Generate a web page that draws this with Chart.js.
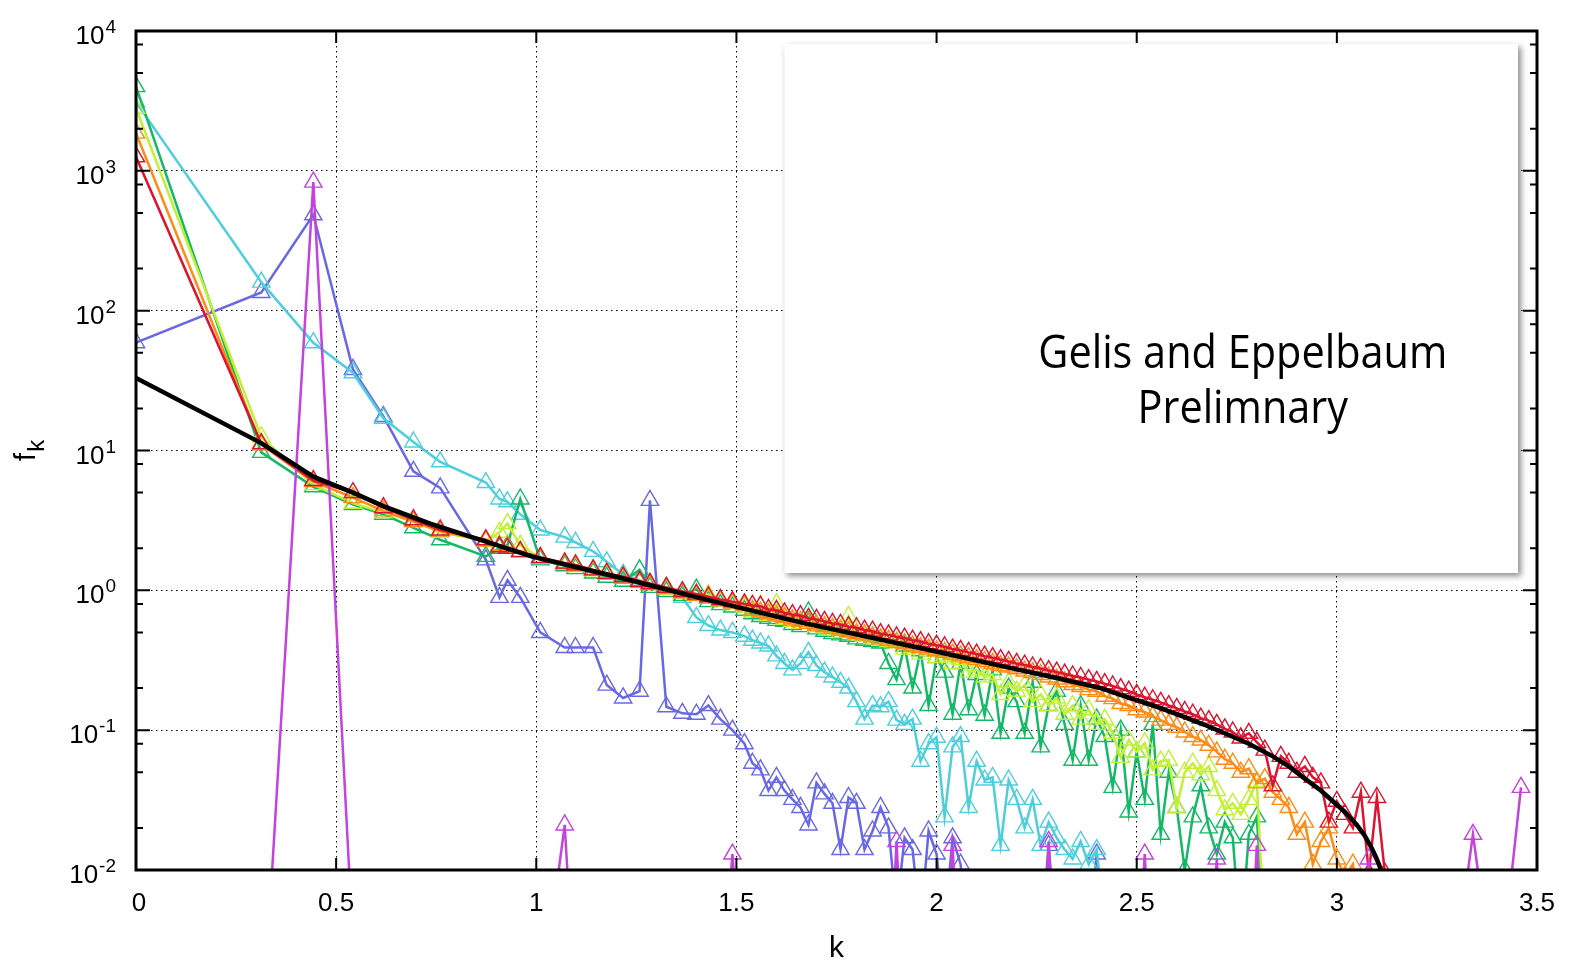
<!DOCTYPE html>
<html>
<head>
<meta charset="utf-8">
<script src="https://cdn.jsdelivr.net/npm/chart.js@4.4.0/dist/chart.umd.min.js"></script>
<style>
  html, body { margin: 0; padding: 0; background: #fff; }
  #wrap { width: 1569px; height: 961px; position: relative; }
</style>
</head>
<body>
<div id="wrap"><canvas id="fkChart"></canvas></div>
<script>
// lattice momenta k, shared by the simulated curves
const K = [0, 0.313, 0.443, 0.542, 0.618, 0.693, 0.760, 0.874, 0.908, 0.928, 0.960, 1.010, 1.071, 1.098, 1.142, 1.176, 1.217, 1.258, 1.284, 1.325, 1.365, 1.40, 1.43, 1.46, 1.49, 1.52,
  1.54, 1.56, 1.58, 1.60, 1.62, 1.64, 1.66, 1.68, 1.70, 1.72,
  1.74, 1.76, 1.78, 1.80, 1.82, 1.84, 1.86, 1.88, 1.90, 1.92,
  1.94, 1.96, 1.98, 2.00, 2.02, 2.04, 2.06, 2.08, 2.10, 2.12,
  2.14, 2.16, 2.18, 2.20, 2.22, 2.24, 2.26, 2.28, 2.30, 2.32,
  2.34, 2.36, 2.38, 2.40, 2.42, 2.44, 2.46, 2.48, 2.50, 2.52,
  2.54, 2.56, 2.58, 2.60, 2.62, 2.64, 2.66, 2.68, 2.70, 2.72,
  2.74, 2.76, 2.78, 2.80, 2.82, 2.84, 2.86, 2.88, 2.90, 2.92,
  2.94, 2.96, 2.98, 3.00, 3.02, 3.04, 3.06, 3.08, 3.10, 3.12,
  3.16, 3.22, 3.28, 3.34, 3.40, 3.46];

// f_k per run (values below 1e-2 sit under the axis)
const fRed = [1260, 11.2, 6.1, 5.0, 3.9, 3.2, 2.7, 2.3, 2.05, 2.0, 1.9, 1.72, 1.57, 1.52, 1.40, 1.32, 1.25, 1.16, 1.12, 1.05, 0.98, 0.94, 0.90, 0.86, 0.83, 0.80,
  0.78, 0.77, 0.73, 0.72, 0.69, 0.67, 0.66, 0.63, 0.62, 0.60,
  0.58, 0.57, 0.55, 0.54, 0.52, 0.51, 0.49, 0.48, 0.465, 0.455,
  0.44, 0.43, 0.415, 0.405, 0.395, 0.38, 0.372, 0.36, 0.35, 0.338,
  0.33, 0.32, 0.31, 0.30, 0.292, 0.283, 0.276, 0.267, 0.26, 0.252,
  0.244, 0.238, 0.23, 0.223, 0.215, 0.207, 0.198, 0.19, 0.18, 0.172,
  0.165, 0.158, 0.15, 0.143, 0.136, 0.13, 0.122, 0.117, 0.11, 0.102,
  0.097, 0.088, 0.095, 0.082, 0.072, 0.04, 0.065, 0.058, 0.05, 0.055,
  0.046, 0.042, 0.022, 0.031, 0.025, 0.02, 0.036, 0.0095, 0.033, 0.0095,
  null, null, null, null, null, null];
const fOrange = [1860, 11.0, 6.0, 4.6, 3.7, 3.1, 2.65, 2.25, 2.1, 2.05, 1.88, 1.7, 1.55, 1.5, 1.4, 1.33, 1.22, 1.14, 1.10, 1.03, 0.96, 0.92, 0.88, 0.84, 0.81, 0.78,
  0.72, 0.70, 0.68, 0.655, 0.64, 0.615, 0.60, 0.58, 0.565, 0.55,
  0.535, 0.52, 0.505, 0.49, 0.48, 0.465, 0.45, 0.44, 0.425, 0.415,
  0.40, 0.39, 0.38, 0.37, 0.36, 0.35, 0.34, 0.33, 0.32, 0.31,
  0.30, 0.29, 0.283, 0.275, 0.265, 0.258, 0.25, 0.24, 0.232, 0.222,
  0.212, 0.205, 0.195, 0.19, 0.175, 0.168, 0.155, 0.15, 0.14, 0.135,
  0.125, 0.118, 0.11, 0.105, 0.097, 0.09, 0.085, 0.078, 0.07, 0.062,
  0.058, 0.05, 0.053, 0.042, 0.045, 0.036, 0.032, 0.028, 0.018, 0.022,
  0.011, 0.016, 0.02, 0.012, 0.009, 0.011, 0.004, null, null, null,
  null, null, null, null, null, null];
const fYellow = [2800, 12.5, 5.7, 4.2, 3.6, 3.1, 2.6, 2.25, 2.6, 3.0, 2.1, 1.7, 1.55, 1.48, 1.38, 1.3, 1.22, 1.14, 1.1, 1.02, 0.96, 0.92, 0.93, 0.84, 0.80, 0.76,
  0.70, 0.78, 0.66, 0.80, 0.62, 0.60, 0.58, 0.62, 0.55, 0.54,
  0.52, 0.50, 0.65, 0.48, 0.47, 0.45, 0.44, 0.43, 0.42, 0.38,
  0.39, 0.35, 0.37, 0.33, 0.34, 0.30, 0.32, 0.26, 0.27, 0.24,
  0.25, 0.18, 0.22, 0.19, 0.21, 0.16, 0.18, 0.15, 0.17, 0.13,
  0.15, 0.12, 0.14, 0.11, 0.12, 0.095, 0.064, 0.085, 0.07, 0.081,
  0.052, 0.06, 0.061, 0.028, 0.05, 0.058, 0.048, 0.055, 0.037, 0.027,
  0.03, 0.025, 0.032, 0.043, 0.003, null, null, null, null, null,
  null, null, null, null, null, null, null, null, null, null,
  null, null, null, null, null, null];
const fGreen = [4000, 9.7, 5.5, 4.1, 3.5, 2.8, 2.3, 1.75, 2.0, 2.1, 4.5, 1.65, 1.5, 1.43, 1.33, 1.24, 1.16, 1.4, 1.05, 0.98, 0.92, 1.02, 0.83, 0.79, 0.76, 0.72,
  0.68, 0.65, 0.63, 0.61, 0.60, 0.57, 0.55, 0.70, 0.53, 0.51,
  0.49, 0.48, 0.47, 0.45, 0.44, 0.43, 0.42, 0.30, 0.23, 0.40,
  0.20, 0.37, 0.15, 0.33, 0.26, 0.13, 0.30, 0.14, 0.25, 0.128,
  0.27, 0.095, 0.20, 0.16, 0.095, 0.22, 0.076, 0.15, 0.19, 0.11,
  0.061, 0.15, 0.061, 0.12, 0.09, 0.039, 0.10, 0.026, 0.07, 0.032,
  0.11, 0.018, 0.05, 0.028, 0.01, 0.024, 0.04, 0.02, 0.013, 0.022,
  0.017, 0.003, 0.018, 0.024, 0.003, null, null, null, null, null,
  null, null, null, null, null, null, null, null, null, null,
  null, null, null, null, null, null];
const fCyan = [3100, 160, 59, 36, 17, 11.5, 8.3, 5.9, 4.5, 4.3, 3.5, 2.7, 2.4, 2.2, 1.9, 1.6, 1.3, 1.18, 1.12, 1.05, 0.89, 0.64, 0.56, 0.52, 0.5, 0.47,
  0.44, 0.42, 0.40, 0.34, 0.30, 0.27, 0.30, 0.36, 0.29, 0.26,
  0.24, 0.22, 0.20, 0.16, 0.12, 0.15, 0.147, 0.16, 0.118, 0.11,
  0.12, 0.06, 0.08, 0.089, 0.024, 0.076, 0.09, 0.028, 0.06, 0.044,
  0.046, 0.015, 0.044, 0.032, 0.02, 0.032, 0.015, 0.022, 0.017, 0.014,
  0.012, 0.016, 0.011, 0.014, 0.004, null, null, null, null, null,
  null, null, null, null, null, null, null, null, null, null,
  null, null, null, null, null, null, null, null, null, null,
  null, null, null, null, null, null, null, null, null, null,
  null, null, null, null, null, null];
const fBlue = [59, 135, 485, 38, 17.5, 7.1, 5.4, 1.65, 0.89, 1.18, 0.89, 0.50, 0.39, 0.39, 0.39, 0.21, 0.17, 0.19, 4.4, 0.147, 0.132, 0.13, 0.15, 0.12, 0.10, 0.08,
  0.058, 0.052, 0.037, 0.046, 0.037, 0.032, 0.028, 0.021, 0.042, 0.035,
  0.030, 0.014, 0.033, 0.03, 0.014, 0.019, 0.028, 0.02, 0.005, 0.017,
  0.014, 0.004, 0.019, 0.013, 0.004, 0.017, 0.011, 0.003, 0.003, 0.003,
  0.003, 0.003, 0.003, 0.003, 0.003, 0.003, 0.003, 0.015, 0.003, 0.003,
  0.003, 0.003, 0.003, 0.013, 0.003, null, null, null, null, null,
  null, null, null, null, null, null, null, null, null, null,
  null, null, null, null, null, null, null, null, null, null,
  null, null, null, null, null, null, null, null, null, null,
  null, null, null, null, null, null];
const fMagenta = [null, 0.0005, 830, 0.003, 0.001, 0.001, 0.001, 0.001, 0.001, 0.001, 0.001, 0.001, 0.021, 0.001, 0.001, 0.001, 0.001, 0.001, 0.001, 0.001, 0.001, 0.001, 0.001, 0.001, 0.013, 0.001,
  0.001, 0.001, 0.001, 0.001, 0.001, 0.001, 0.001, 0.001, 0.001, 0.001,
  0.001, 0.001, 0.001, 0.001, 0.001, 0.001, 0.001, 0.001, 0.016, 0.001,
  0.001, 0.001, 0.001, 0.001, 0.001, 0.015, 0.001, 0.001, 0.001, 0.001,
  0.001, 0.001, 0.001, 0.001, 0.001, 0.001, 0.001, 0.016, 0.001, 0.001,
  0.001, 0.001, 0.001, 0.001, 0.001, 0.001, 0.001, 0.001, 0.001, 0.013,
  0.001, 0.001, 0.001, 0.001, 0.001, 0.001, 0.001, 0.001, 0.012, 0.001,
  0.001, 0.001, 0.001, 0.015, 0.001, 0.001, 0.001, 0.001, 0.001, 0.001,
  0.001, 0.001, 0.001, 0.001, 0.001, 0.001, 0.001, 0.012, 0.001, 0.001,
  0.001, 0.001, 0.001, 0.018, 0.001, 0.039];

// theory curve (black)
const theoryK = [0, 0.313, 0.443, 0.542, 0.618, 0.735, 0.874, 0.99, 1.2, 1.41, 1.66, 1.99, 2.2, 2.3, 2.41, 2.48, 2.535, 2.6, 2.66, 2.72, 2.78, 2.84, 2.88, 2.92, 2.96, 2.99, 3.02, 3.05, 3.07, 3.085, 3.097, 3.106, 3.113, 3.12];
const theoryF = [33, 11.3, 6.5, 5.0, 4.0, 3.0, 2.23, 1.74, 1.25, 0.88, 0.59, 0.37, 0.272, 0.236, 0.20, 0.171, 0.152, 0.13, 0.112, 0.095, 0.08, 0.065, 0.055, 0.045, 0.037, 0.031, 0.026, 0.021, 0.0175, 0.0147, 0.0125, 0.0108, 0.0093, 0.007];

const xTicks = [0, 0.5, 1, 1.5, 2, 2.5, 3, 3.5];
const xTickLabels = ['0', '0.5', '1', '1.5', '2', '2.5', '3', '3.5'];
const yTicks = [0.01, 0.1, 1, 10, 100, 1000, 10000];
const yTickExps = ['-2', '-1', '0', '1', '2', '3', '4'];
const yMinor = [2, 5, 8];
const noteLines = ['Gelis and Eppelbaum', 'Prelimnary'];

const FONT = "'Liberation Sans', Arial, sans-serif";

function points(xs, ys) {
  return xs.map((k, i) => ({x: k, y: ys[i]}));
}

function runSet(label, color, vals) {
  return {
    label: label,
    data: points(K, vals),
    borderColor: color,
    borderWidth: 2.5,
    pointStyle: 'triangle',
    pointRadius: 10,
    pointHoverRadius: 10,
    pointBorderWidth: 1.4,
    pointBorderColor: color,
    pointBackgroundColor: 'rgba(0,0,0,0)',
    spanGaps: false,
    clip: 0
  };
}

// frame, inward ticks, labels and the note box
const framePlugin = {
  id: 'frame',
  afterDraw(chart) {
    const ctx = chart.ctx;
    const a = chart.chartArea;
    const x = chart.scales.x;
    const y = chart.scales.y;
    ctx.save();

    // note box
    const bx0 = x.getPixelForValue(1.62), bx1 = x.getPixelForValue(3.4525);
    const by0 = y.getPixelForValue(8100), by1 = y.getPixelForValue(1.33);
    ctx.save();
    ctx.shadowColor = 'rgba(0,0,0,0.45)';
    ctx.shadowBlur = 6;
    ctx.shadowOffsetX = 3;
    ctx.shadowOffsetY = 3;
    ctx.fillStyle = '#fff';
    ctx.fillRect(bx0, by0, bx1 - bx0, by1 - by0);
    ctx.restore();

    ctx.fillStyle = '#000';
    ctx.font = "46px 'Open Sans', sans-serif";
    ctx.textAlign = 'center';
    ctx.textBaseline = 'alphabetic';
    const sx = 409 / ctx.measureText(noteLines[0]).width;
    const cx = x.getPixelForValue(2.765);
    [39, 15.7].forEach((v, i) => {
      ctx.save();
      ctx.translate(cx, y.getPixelForValue(v));
      ctx.scale(sx, 1);
      ctx.fillText(noteLines[i], 0, 0);
      ctx.restore();
    });

    // frame
    ctx.strokeStyle = '#000';
    ctx.lineWidth = 3;
    ctx.strokeRect(a.left, a.top, a.right - a.left, a.bottom - a.top);

    // ticks
    ctx.lineWidth = 2;
    ctx.beginPath();
    xTicks.forEach(v => {
      const px = x.getPixelForValue(v);
      ctx.moveTo(px, a.bottom); ctx.lineTo(px, a.bottom - 12);
      ctx.moveTo(px, a.top); ctx.lineTo(px, a.top + 12);
    });
    yTicks.forEach((v, i) => {
      const py = y.getPixelForValue(v);
      ctx.moveTo(a.left, py); ctx.lineTo(a.left + 14, py);
      ctx.moveTo(a.right, py); ctx.lineTo(a.right - 14, py);
      if (i < yTicks.length - 1) {
        yMinor.forEach(m => {
          const pm = y.getPixelForValue(v * m);
          ctx.moveTo(a.left, pm); ctx.lineTo(a.left + 7, pm);
          ctx.moveTo(a.right, pm); ctx.lineTo(a.right - 7, pm);
        });
      }
    });
    ctx.stroke();

    // x tick labels
    ctx.fillStyle = '#000';
    ctx.font = '26px ' + FONT;
    ctx.textAlign = 'center';
    xTicks.forEach((v, i) => {
      ctx.fillText(xTickLabels[i], x.getPixelForValue(v) + (i === 0 ? 3 : 0), a.bottom + 41);
    });

    // y tick labels: 10 with raised exponent
    const rightEdge = a.left - 20;
    yTicks.forEach((v, i) => {
      const py = y.getPixelForValue(v);
      ctx.textAlign = 'right';
      ctx.font = '19px ' + FONT;
      ctx.fillText(yTickExps[i], rightEdge, py + 2);
      const ew = ctx.measureText(yTickExps[i]).width;
      ctx.font = '26px ' + FONT;
      ctx.fillText('10', rightEdge - ew - 1, py + 13);
    });

    // axis titles
    ctx.textAlign = 'center';
    ctx.font = '30px ' + FONT;
    ctx.fillText('k', (a.left + a.right) / 2, a.bottom + 87);

    ctx.save();
    ctx.font = '30px ' + FONT;
    const fw = ctx.measureText('f').width;
    ctx.font = '24px ' + FONT;
    const kw = ctx.measureText('k').width;
    const midY = (a.top + a.bottom) / 2;
    ctx.translate(35, midY + (fw + kw + 1) / 2);
    ctx.rotate(-Math.PI / 2);
    ctx.textAlign = 'left';
    ctx.font = '30px ' + FONT;
    ctx.fillText('f', 0, 0);
    ctx.font = '24px ' + FONT;
    ctx.fillText('k', fw + 1, 9);
    ctx.restore();

    ctx.restore();
  }
};

const fkChart = new Chart(document.getElementById('fkChart').getContext('2d'), {
  type: 'line',
  data: {
    datasets: [
      {
        label: 'theory',
        data: points(theoryK, theoryF),
        borderColor: '#000',
        borderWidth: 4.5,
        pointRadius: 0,
        clip: 0
      },
      runSet('run 7', '#c443dc', fMagenta),
      runSet('run 6', '#dc1430', fRed),
      runSet('run 5', '#ff8a14', fOrange),
      runSet('run 4', '#c2f036', fYellow),
      runSet('run 3', '#14b866', fGreen),
      runSet('run 2', '#4ccfdb', fCyan),
      runSet('run 1', '#6868e6', fBlue)
    ]
  },
  options: {
    responsive: true,
    maintainAspectRatio: false,
    animation: false,
    events: [],
    layout: { padding: { left: 136, right: 32, top: 31, bottom: 91 } },
    plugins: { legend: { display: false }, tooltip: { enabled: false } },
    scales: {
      x: {
        type: 'linear',
        min: 0,
        max: 3.5,
        afterBuildTicks: s => { s.ticks = xTicks.map(v => ({ value: v })); },
        ticks: { display: false },
        grid: { color: '#000', lineWidth: 1, drawTicks: false },
        border: { display: false, dash: [1.5, 3.5] }
      },
      y: {
        type: 'logarithmic',
        min: 0.01,
        max: 10000,
        afterBuildTicks: s => { s.ticks = yTicks.map(v => ({ value: v })); },
        ticks: { display: false },
        grid: { color: '#000', lineWidth: 1, drawTicks: false },
        border: { display: false, dash: [1.5, 3.5] }
      }
    }
  },
  plugins: [framePlugin]
});
</script>
</body>
</html>
